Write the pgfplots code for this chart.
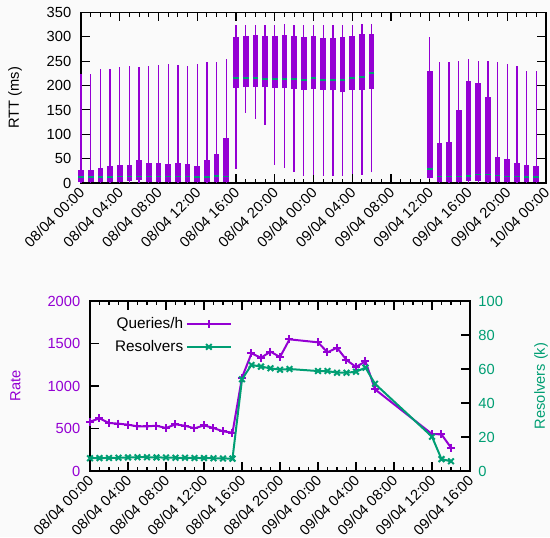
\documentclass[border=0pt]{standalone}
\usepackage{fontspec}
\setmainfont{Liberation Sans}
\usepackage{pgfplots}
\usepackage{pgfplotstable}
\pgfplotsset{compat=1.18}

\definecolor{rttviolet}{HTML}{9400D3}
\definecolor{resgreen}{HTML}{009E73}
\definecolor{bgpanel}{HTML}{FAFAFA}

% RTT per hour: whisker ends, quartiles and median (ms)
\pgfplotstableread{
h  lo    q1    med    q3     hi
0  0.5   2     13     27     223
1  0.5   2     13     27     224
2  0.5   2     13     31     235
3  0.5   2     13     35.5   235
4  0.5   2     13.5   37.5   239
5  0.5   4     13.5   37.5   240
6  0.5   6     13.5   47     238
7  0.5   2     13.5   41     241
8  0.5   2     13.5   41.5   241.5
9  0.5   2     13.5   39.5   243.5
10 0.5   2     13.5   41     241.5
11 0.5   2     13.5   39.5   241
12 0.5   2     13     35.5   243.5
13 0.5   2     13     47     247.5
14 0.5   2     15     59     249
15 0.5   2     13.5   92     255
16 29    195   215.5  299    325
17 144   197   215.5  302    325
18 131.5 197   215.5  303    325
19 120   196.5 213.5  301    325
20 38    195   213.5  302    325
21 31    194.5 213.5  303    326.5
22 22.5  193   213.5  301    325
23 14    191.5 211    299.5  325
24 17    193   215    301    325
25 15    191.5 211    297.5  325
26 13.5  190   211    297.5  325
27 13.5  186   211    299.5  325
28 19    191.5 215    301    325
29 16.5  191.5 217.5  305    326.5
30 22    192.5 226    305.5  326.5
36 9     11    29     229    300
37 0.5   2     13.5   83     249
38 0.5   2     13.5   84.5   249
39 0.5   2     13.5   150.5  251.5
40 0.5   5     15     208.5  255
41 0.5   4     17.5   204.5  251
42 0.5   2     17.5   176    251
43 0.5   2     15.5   52.5   247.5
44 0.5   2     13.5   48.5   243.5
45 0.5   2     13.5   41.5   241
46 0.5   2     13     37.5   230
47 0.5   2     13     35.5   230
}\rtt

% Query rate per hour
\pgfplotstableread{
h  q
0  580
1  620
2  565
3  557
4  545
5  525
6  525
7  533
8  506
9  549
10 533
11 502
12 537
13 506
14 467
15 451
16 1100
17 1384
18 1333
19 1404
20 1341
21 1549
24 1514
25 1396
26 1451
27 1306
28 1224
29 1290
30 961
36 435
37 431
38 274
}\queries

% Active resolvers per hour (thousands)
\pgfplotstableread{
h  r
0  7.5
1  7.6
2  7.7
3  7.8
4  8.0
5  8.1
6  8.1
7  8.0
8  7.9
9  7.8
10 7.8
11 7.7
12 7.6
13 7.5
14 7.4
15 7.3
16 54
17 62.4
18 61.4
19 60.4
20 59.6
21 60.0
24 58.8
25 58.8
26 57.8
27 57.8
28 58.4
29 60.8
30 51.3
36 20.2
37 7.0
38 5.7
}\resolvers

\pgfplotsset{
  panel/.style={
    scale only axis,
    tick align=inside,
    major tick length=6.5pt,
    minor tick length=3pt,
    tick style={black, line width=0.8pt},
    axis line style={black, line width=1pt},
    /pgf/number format/assume math mode=true,
    /pgf/number format/1000 sep={},
    xticklabel style={rotate=45, anchor=east, inner sep=1pt, yshift=-4pt, xshift=-2pt},
    yticklabel style={xshift=-3.5pt},
  },
}

\begin{document}
\fontsize{11}{13}\selectfont
\begin{tikzpicture}
\fill[bgpanel] (0,0) rectangle (412.5pt,-402.75pt);

% ---- RTT distribution per hour ----
\begin{axis}[panel,
  at={(60.75pt,-9.375pt)}, anchor=north west,
  width=348.75pt, height=127.9pt,
  xmin=0, xmax=48, ymin=0, ymax=350,
  xtick={0,4,...,48}, minor x tick num=3,
  xticklabels={08/04 00:00,08/04 04:00,08/04 08:00,08/04 12:00,08/04 16:00,08/04 20:00,09/04 00:00,09/04 04:00,09/04 08:00,09/04 12:00,09/04 16:00,09/04 20:00,10/04 00:00},
  ytick={0,50,...,350},
  xtick pos=both, ytick pos=both,
  xticklabel pos=lower, yticklabel pos=left,
  ylabel={RTT (ms)},
  every axis y label/.style={at={(axis description cs:-0.142,0.5)}, rotate=90, anchor=center},
  clip=false,
]
% whiskers
\addplot[draw=none, mark=none, forget plot,
  error bars/.cd, y dir=plus, y explicit, error mark=none,
  error bar style={draw=rttviolet, line width=1pt}]
  table[x=h, y=lo, y error plus expr=\thisrow{hi}-\thisrow{lo}] {\rtt};
% interquartile boxes
\addplot[draw=none, mark=none, forget plot,
  error bars/.cd, y dir=plus, y explicit, error mark=none,
  error bar style={draw=rttviolet, line width=4.3pt}]
  table[x=h, y=q1, y error plus expr=\thisrow{q3}-\thisrow{q1}] {\rtt};
% medians
\addplot[only marks, mark=-, mark size=2.15pt, forget plot,
  mark options={draw=resgreen, line width=1.3pt}]
  table[x=h, y=med] {\rtt};
\end{axis}

% ---- query rate (left scale) ----
\begin{axis}[panel,
  at={(67.5pt,-225.75pt)}, anchor=north west,
  width=285pt, height=127.5pt,
  xmin=0, xmax=40, ymin=0, ymax=2000,
  xtick={0,4,...,40}, minor x tick num=3,
  xticklabels={08/04 00:00,08/04 04:00,08/04 08:00,08/04 12:00,08/04 16:00,08/04 20:00,09/04 00:00,09/04 04:00,09/04 08:00,09/04 12:00,09/04 16:00},
  ytick={0,500,...,2000},
  xtick pos=both, ytick pos=left,
  xticklabel pos=lower,
  yticklabel style={text=rttviolet},
  ylabel={Rate},
  every axis y label/.style={at={(axis description cs:-0.196,0.5)}, rotate=90, anchor=center, text=rttviolet},
]
\addplot[rttviolet, line width=1.5pt, mark=+, mark size=3pt] table[x=h, y=q] {\queries};
\end{axis}

% ---- resolvers (right scale) ----
\begin{axis}[panel,
  at={(67.5pt,-225.75pt)}, anchor=north west,
  width=285pt, height=127.5pt,
  xmin=0, xmax=40, ymin=0, ymax=100,
  hide x axis,
  axis y line*=right,
  ytick={0,20,...,100},
  yticklabel style={text=resgreen, xshift=6pt},
  ylabel={Resolvers (k)},
  every axis y label/.style={at={(axis description cs:1.187,0.5)}, rotate=90, anchor=center, text=resgreen},
  legend plot pos=right,
  legend cell align=right,
  legend image code/.code={\draw[mark repeat=2, mark phase=2, #1] plot coordinates {(0pt,0pt) (16.5pt,0pt) (33pt,0pt)};},
  legend style={at={(axis description cs:0.374,0.92)}, anchor=north east,
    draw=none, fill=none, inner sep=0pt, row sep=3pt,
    font=\fontsize{11.5}{13}\selectfont,
    /tikz/every even column/.append style={column sep=7pt}},
]
\addlegendimage{rttviolet, line width=1.5pt, mark=+, mark size=3pt}
\addlegendentry{Queries/h}
\addplot[resgreen, line width=1.5pt, mark=x, mark size=3pt] table[x=h, y=r] {\resolvers};
\addlegendentry{Resolvers}
\end{axis}

\pgfresetboundingbox
\path[use as bounding box] (0,0) rectangle (412.5pt,-402.75pt);
\end{tikzpicture}
\end{document}
